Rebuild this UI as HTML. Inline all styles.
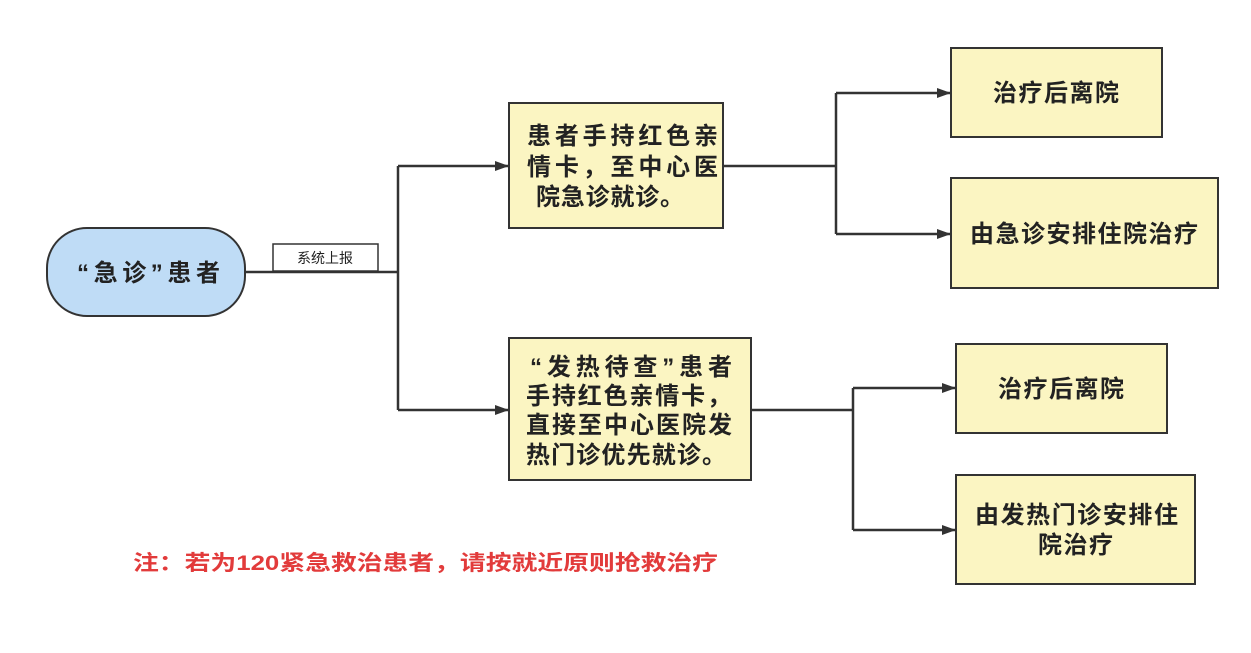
<!DOCTYPE html>
<html><head><meta charset="utf-8"><style>body{margin:0;background:#fff}svg{display:block}text{font-family:"Liberation Sans","Noto Sans CJK SC",sans-serif;font-weight:bold;fill:#222}</style></head>
<body>
<svg width="1251" height="653" viewBox="0 0 1251 653" xmlns="http://www.w3.org/2000/svg">
<defs><marker id="a" markerWidth="14" markerHeight="10" refX="13" refY="5" orient="auto" markerUnits="userSpaceOnUse"><path d="M0,0 L14,5 L0,10 z" fill="#333"/></marker></defs>
<g stroke="#333" stroke-width="2.5" fill="none">
<path d="M245,272 H398"/>
<path d="M398,166 V410"/>
<path d="M398,166 H508" marker-end="url(#a)"/>
<path d="M398,410 H508" marker-end="url(#a)"/>
<path d="M723,166 H836"/>
<path d="M836,93 V234"/>
<path d="M836,93 H950" marker-end="url(#a)"/>
<path d="M836,234 H950" marker-end="url(#a)"/>
<path d="M751,410 H853"/>
<path d="M853,388 V530"/>
<path d="M853,388 H955" marker-end="url(#a)"/>
<path d="M853,530 H955" marker-end="url(#a)"/>
</g>
<rect x="47" y="228" width="198" height="88" rx="40" fill="#bfdcf6" stroke="#333" stroke-width="2"/>
<text x="77" y="281" font-size="24" textLength="143" lengthAdjust="spacing">“急诊”患者</text>
<rect x="273" y="244" width="105" height="27" fill="#fff" stroke="#333" stroke-width="1.5"/>
<text x="325" y="263" font-size="14" text-anchor="middle" style="font-weight:normal">系统上报</text>
<g fill="#fbf5c2" stroke="#333" stroke-width="2">
<rect x="509" y="103" width="214" height="125"/>
<rect x="509" y="338" width="242" height="142"/>
<rect x="951" y="48" width="211" height="89"/>
<rect x="951" y="178" width="267" height="110"/>
<rect x="956" y="344" width="211" height="89"/>
<rect x="956" y="475" width="239" height="109"/>
</g>
<g font-size="24">
<text x="527" y="144" textLength="191" lengthAdjust="spacing">患者手持红色亲</text>
<text x="527" y="175" textLength="191" lengthAdjust="spacing">情卡，至中心医</text>
<text x="536" y="205" textLength="148" lengthAdjust="spacing">院急诊就诊。</text>
<text x="530" y="375" textLength="202" lengthAdjust="spacing">“发热待查”患者</text>
<text x="526" y="404" textLength="205" lengthAdjust="spacing">手持红色亲情卡，</text>
<text x="526" y="433" textLength="206" lengthAdjust="spacing">直接至中心医院发</text>
<text x="526" y="463" textLength="200" lengthAdjust="spacing">热门诊优先就诊。</text>
<text x="993" y="101" textLength="126" lengthAdjust="spacing">治疗后离院</text>
<text x="970" y="242" textLength="228" lengthAdjust="spacing">由急诊安排住院治疗</text>
<text x="998" y="397" textLength="126" lengthAdjust="spacing">治疗后离院</text>
<text x="975" y="523" textLength="203" lengthAdjust="spacing">由发热门诊安排住</text>
<text x="1038" y="553" textLength="75" lengthAdjust="spacing">院治疗</text>
</g>
<text x="133" y="570" font-size="21" style="fill:#e23b3b" textLength="585" lengthAdjust="spacingAndGlyphs">注：若为120紧急救治患者，请按就近原则抢救治疗</text>
</svg>
</body></html>
